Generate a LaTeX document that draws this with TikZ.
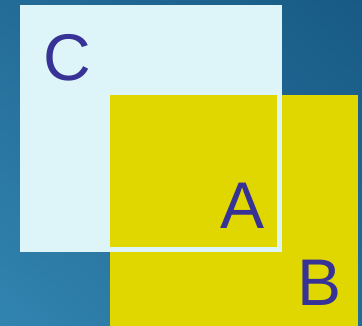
\documentclass[tikz,border=0pt]{standalone}
\usepackage{fontspec}
\setmainfont{Liberation Sans}
\usetikzlibrary{positioning,shadings}
\definecolor{skydark}{RGB}{24,90,134}
\definecolor{skymid}{RGB}{36,108,152}
\definecolor{skylight}{RGB}{50,132,176}
\definecolor{paleice}{RGB}{221,245,248}
\definecolor{lemon}{RGB}{225,215,0}
\definecolor{inkviolet}{RGB}{55,50,150}

\begin{document}
\begin{tikzpicture}[x=1pt,y=-1pt,
 sheet/.style={anchor=north west,inner sep=0pt,outer sep=0pt},
 letter/.style={inner sep=0pt,text=inkviolet,font=\fontsize{66}{66}\selectfont}]
\shade[upper left=skymid,upper right=skydark,lower left=skylight,lower right=skymid]
 (0,0) rectangle (362,326);
\useasboundingbox (0,0) rectangle (362,326);
\node[sheet,fill=lemon,minimum width=248pt,minimum height=231pt] (b) at (110,95) {};
\node[sheet,fill=paleice,minimum width=262pt,minimum height=247pt] (c) at (20,5) {};
\node[sheet,fill=lemon,minimum width=167pt,minimum height=152pt] (a) at (110,95) {};
\node[letter] (lc) at (67,58) {C};
\node[letter] (la) at (243,206) {A};
\node[letter] (lb) at (320,283) {B};
\end{tikzpicture}
\end{document}
